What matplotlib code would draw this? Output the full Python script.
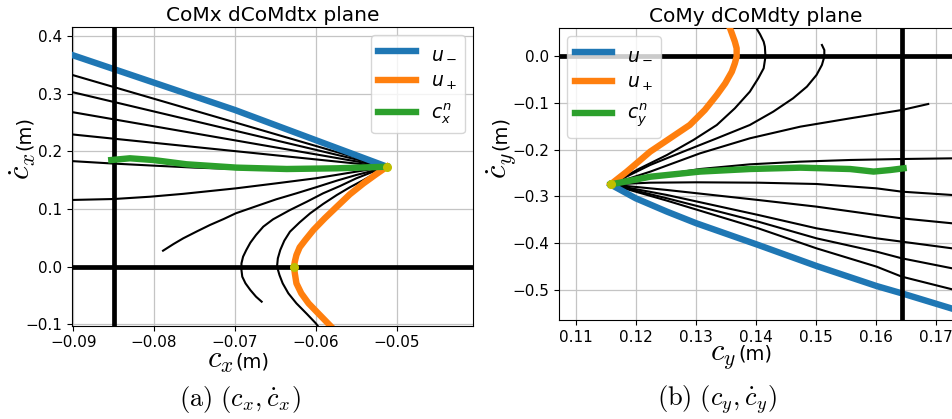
import matplotlib
matplotlib.use("Agg")
import matplotlib.pyplot as plt

# ---------------- CoM x phase plane ----------------
x_limits = (-0.09016, -0.04056)
xd_limits = (-0.1024, 0.4161)
x_ticks = [-0.09, -0.08, -0.07, -0.06, -0.05]
xd_ticks = [-0.1, 0.0, 0.1, 0.2, 0.3, 0.4]
x_bound = -0.085

x_umin = [-0.0904, -0.0700, -0.0512]
xd_umin = [0.3687, 0.2720, 0.1736]

x_uplus = [-0.0512, -0.0525, -0.0541, -0.0558, -0.0574, -0.0589, -0.0603, -0.0613, -0.0620,
           -0.0624, -0.0626, -0.0627, -0.0626, -0.0624, -0.0618, -0.0609, -0.0597, -0.0583,
           -0.0579]
xd_uplus = [0.1736, 0.1609, 0.1447, 0.1256, 0.1042, 0.0840, 0.0637, 0.0464, 0.0336,
            0.0203, 0.0087, 0.0, -0.0115, -0.0289, -0.0462, -0.0636, -0.0810, -0.1012,
            -0.1070]

x_cn = [-0.0853, -0.0830, -0.0801, -0.0760, -0.0698, -0.0636, -0.0574, -0.0512]
xd_cn = [0.1852, 0.1882, 0.1852, 0.1778, 0.1720, 0.1696, 0.1708, 0.1736]

x_traj = [
    [-0.0904, -0.0512],
    [-0.0904, -0.0512],
    [-0.0904, -0.0512],
    [-0.0904, -0.0512],
    [-0.0904, -0.0850, -0.0800, -0.0750, -0.0700, -0.0650, -0.0600, -0.0555, -0.0512],
    [-0.0904, -0.0850, -0.0805, -0.0764, -0.0699, -0.0649, -0.0600, -0.0550, -0.0512],
    [-0.0789, -0.0776, -0.0764, -0.0747, -0.0731, -0.0714, -0.0699, -0.0673, -0.0649,
     -0.0624, -0.0600, -0.0574, -0.0550, -0.0529, -0.0512],
    [-0.0667, -0.0674, -0.0681, -0.0687, -0.0691, -0.0692, -0.0692, -0.0690, -0.0686,
     -0.0681, -0.0674, -0.0665, -0.0653, -0.0632, -0.0611, -0.0591, -0.0570, -0.0550,
     -0.0529, -0.0512],
    [-0.0597, -0.0600, -0.0611, -0.0624, -0.0634, -0.0641, -0.0645, -0.0648, -0.0647,
     -0.0644, -0.0639, -0.0632, -0.0620, -0.0607, -0.0591, -0.0574, -0.0558, -0.0541,
     -0.0525, -0.0512],
]
xd_traj = [
    [0.3340, 0.1736],
    [0.3040, 0.1736],
    [0.2690, 0.1736],
    [0.2300, 0.1736],
    [0.1835, 0.1790, 0.1754, 0.1720, 0.1696, 0.1685, 0.1696, 0.1710, 0.1736],
    [0.1158, 0.1175, 0.1215, 0.1265, 0.1360, 0.1447, 0.1535, 0.1650, 0.1736],
    [0.0278, 0.0394, 0.0493, 0.0614, 0.0724, 0.0828, 0.0927, 0.1054, 0.1170,
     0.1274, 0.1378, 0.1494, 0.1592, 0.1667, 0.1736],
    [-0.0607, -0.0520, -0.0405, -0.0289, -0.0173, -0.0057, 0.0058, 0.0174, 0.0290,
     0.0417, 0.0550, 0.0695, 0.0822, 0.0984, 0.1129, 0.1274, 0.1401, 0.1534,
     0.1650, 0.1736],
    [-0.1040, -0.0983, -0.0821, -0.0636, -0.0462, -0.0289, -0.0144, 0.0001, 0.0145,
     0.0290, 0.0452, 0.0608, 0.0770, 0.0927, 0.1089, 0.1245, 0.1378, 0.1505,
     0.1632, 0.1736],
]
x_marks = [-0.0627, -0.0512]
xd_marks = [0.0, 0.1736]

# ---------------- CoM y phase plane ----------------
y_limits = (0.10722, 0.17266)
yd_limits = (-0.5641, 0.0598)
y_ticks = [0.11, 0.12, 0.13, 0.14, 0.15, 0.16, 0.17]
yd_ticks = [-0.5, -0.4, -0.3, -0.2, -0.1, 0.0]
y_bound = 0.1643

y_umin = [0.1158, 0.1200, 0.1252, 0.1301, 0.1404, 0.1501, 0.1601, 0.1643, 0.1727]
yd_umin = [-0.2745, -0.3041, -0.3326, -0.3575, -0.4038, -0.4487, -0.4915, -0.5071, -0.5399]

y_uplus = [0.1158, 0.1185, 0.1224, 0.1257, 0.1290, 0.1315, 0.1335, 0.1349, 0.1360,
           0.1365, 0.1368, 0.1368, 0.1365, 0.1361, 0.1357, 0.1354]
yd_uplus = [-0.2745, -0.2472, -0.2044, -0.1759, -0.1474, -0.1154, -0.0833, -0.0584, -0.0335,
            -0.0157, -0.0014, 0.0164, 0.0306, 0.0449, 0.0591, 0.0662]

y_cn = [0.1158, 0.1224, 0.1307, 0.1390, 0.1474, 0.1557, 0.1596, 0.1624, 0.1646]
yd_cn = [-0.2745, -0.2580, -0.2470, -0.2415, -0.2386, -0.2415, -0.2470, -0.2436, -0.2400]

y_traj = [
    [0.1158, 0.1207, 0.1252, 0.1296, 0.1335, 0.1365, 0.1390, 0.1404, 0.1413, 0.1416,
     0.1415, 0.1413, 0.1407, 0.1401, 0.1399],
    [0.1158, 0.1224, 0.1279, 0.1335, 0.1390, 0.1429, 0.1462, 0.1485, 0.1501, 0.1510,
     0.1514, 0.1514, 0.1510],
    [0.1158, 0.1224, 0.1307, 0.1390, 0.1474, 0.1557, 0.1643, 0.1687],
    [0.1158, 0.1224, 0.1307, 0.1390, 0.1474, 0.1557, 0.1643, 0.1727],
    [0.1158, 0.1224, 0.1301, 0.1404, 0.1501, 0.1601, 0.1643, 0.1727],
    [0.1158, 0.1252, 0.1404, 0.1501, 0.1601, 0.1643, 0.1727],
    [0.1158, 0.1252, 0.1404, 0.1501, 0.1601, 0.1643, 0.1727],
    [0.1158, 0.1252, 0.1404, 0.1501, 0.1601, 0.1643, 0.1727],
    [0.1158, 0.1252, 0.1404, 0.1501, 0.1601, 0.1643, 0.1727],
]
yd_traj = [
    [-0.2745, -0.2400, -0.2115, -0.1795, -0.1474, -0.1118, -0.0762, -0.0477, -0.0263,
     -0.0014, 0.0199, 0.0306, 0.0463, 0.0591, 0.0662],
    [-0.2745, -0.2329, -0.2044, -0.1759, -0.1474, -0.1189, -0.0904, -0.0655, -0.0406,
     -0.0192, -0.0014, 0.0128, 0.0235],
    [-0.2745, -0.2472, -0.2080, -0.1759, -0.1510, -0.1332, -0.1154, -0.1026],
    [-0.2745, -0.2578, -0.2415, -0.2315, -0.2258, -0.2222, -0.2201, -0.2187],
    [-0.2745, -0.2707, -0.2699, -0.2707, -0.2735, -0.2828, -0.2899, -0.2970],
    [-0.2745, -0.2863, -0.3077, -0.3219, -0.3397, -0.3469, -0.3575],
    [-0.2745, -0.2970, -0.3397, -0.3682, -0.3896, -0.3967, -0.4110],
    [-0.2745, -0.3041, -0.3540, -0.3896, -0.4181, -0.4323, -0.4537],
    [-0.2745, -0.3091, -0.3682, -0.4110, -0.4501, -0.4715, -0.4986],
]
y_marks = [0.1158]
yd_marks = [-0.2745]

BLUE, ORANGE, GREEN = "#1f77b4", "#ff7f0e", "#2ca02c"
THICK = 4.6

fig = plt.figure(figsize=(9.52, 4.19), dpi=100)
ax1 = fig.add_axes([72 / 952, 93.3 / 419, 401 / 952, 298.7 / 419])
ax2 = fig.add_axes([559 / 952, 99 / 419, 393 / 952, 292 / 419])


def phase_plane(ax, xs, ys, umx, umy, upx, upy, cnx, cny, tx, ty, mx, my,
                bound, cn_label, loc, title):
    ax.axhline(0.0, color="black", lw=3.4, zorder=2)
    for px, py in zip(tx, ty):
        ax.plot(px, py, color="black", lw=1.5, zorder=2.2)
    ax.plot(umx, umy, color=BLUE, lw=THICK, label=r"$u_-$", zorder=3)
    ax.plot(upx, upy, color=ORANGE, lw=THICK, label=r"$u_+$", zorder=3)
    ax.axvline(bound, color="black", lw=3.4, zorder=3.5)
    ax.plot(cnx, cny, color=GREEN, lw=THICK, label=cn_label, zorder=4)
    ax.plot(mx, my, "o", color="#bfbf00", ms=5.5, zorder=4.5)
    ax.set_xlim(*xs)
    ax.set_ylim(*ys)
    ax.grid(True, color="#c4c4c4", lw=0.9)
    ax.set_axisbelow(True)
    ax.tick_params(labelsize=11)
    ax.set_title(title, fontsize=14.5, pad=4.5)
    ax.legend(loc=loc, fontsize=13.5, handlelength=2.0, borderaxespad=0.45)


phase_plane(ax1, x_limits, xd_limits, x_umin, xd_umin, x_uplus, xd_uplus,
            x_cn, xd_cn, x_traj, xd_traj, x_marks, xd_marks, x_bound,
            r"$c_x^n$", "upper right", "CoMx dCoMdtx plane")
ax1.set_xticks(x_ticks)
ax1.set_yticks(xd_ticks)

phase_plane(ax2, y_limits, yd_limits, y_umin, yd_umin, y_uplus, yd_uplus,
            y_cn, yd_cn, y_traj, yd_traj, y_marks, yd_marks, y_bound,
            r"$c_y^n$", "upper left", "CoMy dCoMdty plane")
ax2.set_xticks(y_ticks)
ax2.set_yticks(yd_ticks)
ax2.spines["right"].set_visible(False)


def fx(px):
    return px / 952


def fy(py):
    return (419 - py) / 419


# axis labels: symbol in Computer Modern, unit in sans
for x0, base, sym in [(233, 368, r"$c_x$"), (736, 360, r"$c_y$")]:
    fig.text(fx(x0), fy(base), sym, fontsize=22, math_fontfamily="cm",
             ha="right", va="baseline")
    fig.text(fx(x0 + 2), fy(base - 1), "(m)", fontsize=14, ha="left", va="baseline")

for x0, y0, sym in [(31, 152, r"$\dot{c}_x$"), (507, 152, r"$\dot{c}_y$")]:
    fig.text(fx(x0), fy(y0), sym, fontsize=22, math_fontfamily="cm",
             rotation=90, rotation_mode="anchor", ha="right", va="baseline")
    fig.text(fx(x0 - 1), fy(y0 - 2), "(m)", fontsize=14, rotation=90,
             rotation_mode="anchor", ha="left", va="baseline")

# sub-figure captions
fig.text(fx(240), fy(406), r"$\mathrm{(a)}\ (c_x, \dot{c}_x)$", fontsize=19,
         math_fontfamily="cm", ha="center", va="baseline")
fig.text(fx(717), fy(406), r"$\mathrm{(b)}\ (c_y, \dot{c}_y)$", fontsize=19,
         math_fontfamily="cm", ha="center", va="baseline")

fig.savefig("out.png", dpi=100)
